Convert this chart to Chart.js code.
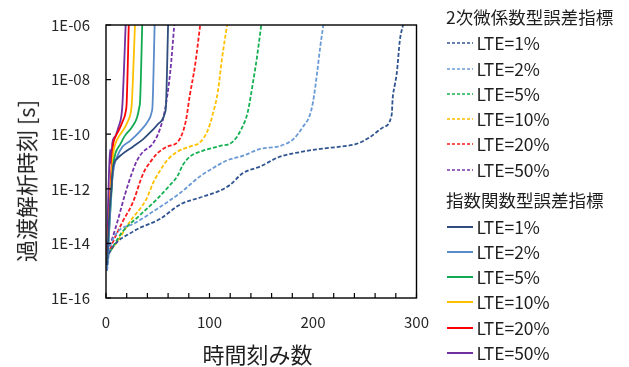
<!DOCTYPE html>
<html>
<head>
<meta charset="utf-8">
<script src="https://cdn.jsdelivr.net/npm/chart.js@4.4.1/dist/chart.umd.min.js"></script>
<style>
  html, body { margin: 0; padding: 0; background: #fff; }
  #wrap { position: relative; width: 629px; height: 367px; overflow: hidden; }
  #chart { position: absolute; left: 0; top: 0; }
  .txt { position: absolute; white-space: nowrap; font-family: "Noto Sans CJK JP", "Noto Sans", sans-serif; color: #1e1e1e; }
  .lg { font-size: 17.5px; line-height: 22px; height: 22px; }
  .lg svg { position: absolute; left: 0; top: 0; }
  .lg span { position: absolute; left: 30.5px; top: 0; }
  .axt { font-size: 22px; line-height: 26px; }
</style>
</head>
<body>
<div id="wrap">
  <canvas id="chart" width="629" height="367"></canvas>
  <div id="overlay"></div>
</div>
<script>
// Transient-analysis time reached vs. number of time steps, per error tolerance.
const groupTitles = ['2次微係数型誤差指標', '指数関数型誤差指標'];
const lteLabels = ['LTE=1%', 'LTE=2%', 'LTE=5%', 'LTE=10%', 'LTE=20%', 'LTE=50%'];
const derivColors = ['#2F5490', '#6A9AD6', '#14B052', '#FFC000', '#FF1A1A', '#7535AA'];
const expoColors  = ['#2E4C7C', '#5A8BCB', '#12AA50', '#FFC000', '#FF0000', '#7030A0'];
const xTitle = '時間刻み数';
const yTitle = '過渡解析時刻 [s]';

// axis ticks
const xTickMarks = [0, 20, 40, 60, 80, 100, 120, 140, 160, 180, 200, 220, 240, 260, 280, 300];
const yTickValues = [1e-16, 1e-14, 1e-12, 1e-10, 1e-8, 1e-6];
const yTickLabels = ['1E-16', '1E-14', '1E-12', '1E-10', '1E-08', '1E-06'];

// second-derivative error index (dashed)
const deriv1Steps = [1, 4, 26, 52, 72, 91, 110, 120, 132, 149, 168, 190, 207, 226, 242, 255, 268, 276, 277, 279, 281, 284, 287];
const deriv1Time  = [2.5e-15, 5.1e-15, 2.7e-14, 7.8e-14, 2.7e-13, 4.8e-13, 8.5e-13, 1.4e-12, 3.7e-12, 6.6e-12, 1.5e-11, 2.3e-11, 2.9e-11, 3.5e-11, 4.4e-11, 7.8e-11, 1.8e-10, 5.1e-10, 2.1e-9, 6.2e-9, 1.8e-8, 2.9e-7, 1e-6];
const deriv2Steps = [1, 4, 26, 49, 72, 91, 100, 117, 132, 149, 168, 181, 190, 197, 200, 204, 207, 210];
const deriv2Time  = [1.0e-15, 7.9e-15, 5.1e-14, 1.8e-13, 7.2e-13, 2.9e-12, 4.8e-12, 1.1e-11, 1.6e-11, 2.9e-11, 3.7e-11, 6.6e-11, 1.8e-10, 5.1e-10, 1.5e-9, 1.8e-8, 1.6e-7, 1e-6];
const deriv5Steps = [1, 7, 16, 33, 49, 62, 69, 74, 81, 94, 110, 122, 131, 137, 142, 146, 150];
const deriv5Time  = [3.2e-15, 7.9e-15, 2.7e-14, 1.1e-13, 4.1e-13, 1.4e-12, 2.9e-12, 7.2e-12, 1.5e-11, 2.5e-11, 3.7e-11, 5.1e-11, 1.6e-10, 6.6e-10, 7.8e-9, 7.2e-8, 1e-6];
const deriv10Steps = [1, 9, 23, 39, 46, 52, 59, 69, 81, 91, 98, 103, 108, 112, 117];
const deriv10Time  = [4.0e-15, 9.1e-15, 6.2e-14, 4.2e-13, 1.8e-12, 4.5e-12, 1.1e-11, 2.3e-11, 3.5e-11, 5.1e-11, 1.3e-10, 5.1e-10, 3.5e-9, 5.6e-8, 1e-6];
const deriv20Steps = [1, 4, 7, 16, 26, 36, 44, 49, 59, 70, 77, 81, 86, 91];
const deriv20Time  = [4.0e-15, 6.3e-15, 1.2e-14, 6.2e-14, 3.2e-13, 3.7e-12, 1.1e-11, 1.9e-11, 3.5e-11, 5.6e-11, 2.9e-10, 2.7e-9, 3.2e-8, 1e-6];
const deriv50Steps = [1, 6, 11, 18, 25, 30, 36, 45, 52, 57, 62, 66];
const deriv50Time  = [5.0e-15, 1.5e-14, 6.2e-14, 5.6e-13, 3.7e-12, 1.1e-11, 2.3e-11, 4.4e-11, 1.5e-10, 7.9e-10, 1.8e-8, 1e-6];

// exponential-function error index (solid)
const expo1Steps = [1, 2, 4, 5, 6, 7, 11, 16, 26, 36, 44, 50, 57, 58, 60];
const expo1Time  = [1.6e-15, 1.3e-14, 3.2e-13, 7.2e-13, 2.9e-12, 6.6e-12, 1.3e-11, 1.9e-11, 3.5e-11, 6.6e-11, 1.3e-10, 2.3e-10, 6.2e-10, 1.2e-9, 1e-6];
const expo2Steps = [1, 2, 4, 5, 6, 8, 11, 16, 23, 33, 41, 44, 45, 47];
const expo2Time  = [1.0e-15, 5.0e-15, 1.4e-13, 7.2e-13, 2.1e-12, 7.2e-12, 1.6e-11, 3.5e-11, 5.6e-11, 1.3e-10, 3.2e-10, 6.2e-10, 1.2e-9, 1e-6];
const expo5Steps = [1, 3, 5, 7, 9, 14, 18, 25, 30, 32, 33, 35];
const expo5Time  = [1.6e-15, 2.7e-14, 4.8e-13, 7.2e-12, 1.9e-11, 4.4e-11, 8.5e-11, 1.8e-10, 4.1e-10, 9.1e-10, 1.8e-9, 1e-6];
const expo10Steps = [1, 3, 5, 7, 9, 12, 16, 21, 24, 25, 28];
const expo10Time  = [2.5e-15, 6.3e-14, 1.6e-12, 1.9e-11, 4.4e-11, 7.8e-11, 1.3e-10, 2.9e-10, 6.6e-10, 1.5e-9, 1e-6];
const expo20Steps = [1, 3, 5, 6, 7, 9, 12, 16, 19, 20, 22];
const expo20Time  = [3.5e-15, 1.0e-13, 3.7e-12, 1.6e-11, 4.4e-11, 7.8e-11, 1.3e-10, 2.9e-10, 6.6e-10, 1.5e-9, 1e-6];
const expo50Steps = [1, 2, 3, 4, 5, 6, 9, 12, 15, 16, 19];
const expo50Time  = [5.0e-15, 3.2e-13, 5.0e-12, 2.8e-11, 8.0e-12, 4.4e-11, 8.5e-11, 1.8e-10, 5.1e-10, 1.5e-9, 1e-6];

const derivSeries = [
  [deriv1Steps, deriv1Time], [deriv2Steps, deriv2Time], [deriv5Steps, deriv5Time],
  [deriv10Steps, deriv10Time], [deriv20Steps, deriv20Time], [deriv50Steps, deriv50Time]
];
const expoSeries = [
  [expo1Steps, expo1Time], [expo2Steps, expo2Time], [expo5Steps, expo5Time],
  [expo10Steps, expo10Time], [expo20Steps, expo20Time], [expo50Steps, expo50Time]
];

const FONT = '"Noto Sans CJK JP", "Noto Sans", sans-serif';
const DASH = [4, 2];

function toPoints(steps, times) {
  return steps.map((s, i) => ({ x: s, y: times[i] }));
}

const datasets = [];
expoSeries.forEach(([s, t], i) => datasets.push({
  label: groupTitles[1] + ' ' + lteLabels[i],
  data: toPoints(s, t),
  borderColor: expoColors[i],
  borderWidth: 1.8,
  pointRadius: 0,
  cubicInterpolationMode: 'monotone',
  fill: false
}));
derivSeries.forEach(([s, t], i) => datasets.push({
  label: groupTitles[0] + ' ' + lteLabels[i],
  data: toPoints(s, t),
  borderColor: derivColors[i],
  borderDash: DASH,
  borderWidth: 1.8,
  pointRadius: 0,
  cubicInterpolationMode: 'monotone',
  fill: false
}));

// plot frame with inward tick marks
const framePlugin = {
  id: 'frame',
  afterDatasetsDraw(chart) {
    const { ctx, chartArea: a, scales: { x, y } } = chart;
    ctx.save();
    ctx.strokeStyle = '#000';
    ctx.lineWidth = 1.4;
    ctx.strokeRect(a.left, a.top, a.right - a.left, a.bottom - a.top);
    ctx.lineWidth = 1.2;
    ctx.beginPath();
    xTickMarks.forEach(v => {
      const px = x.getPixelForValue(v);
      ctx.moveTo(px, a.bottom);
      ctx.lineTo(px, a.bottom - 5);
    });
    yTickValues.forEach(v => {
      const py = y.getPixelForValue(v);
      ctx.moveTo(a.left, py);
      ctx.lineTo(a.left + 5, py);
    });
    ctx.stroke();
    ctx.restore();
  }
};

Chart.defaults.font.family = FONT;
Chart.defaults.color = '#262626';

new Chart(document.getElementById('chart'), {
  type: 'line',
  data: { datasets },
  options: {
    responsive: false,
    animation: false,
    devicePixelRatio: 1,
    layout: { padding: { left: 0, top: 18, right: 212.5, bottom: 0 } },
    plugins: { legend: { display: false }, tooltip: { enabled: false } },
    scales: {
      x: {
        type: 'linear',
        min: 0, max: 300,
        grid: { display: false, drawTicks: false },
        border: { display: false },
        ticks: { stepSize: 100, padding: 15, font: { size: 15 }, color: '#262626' },
        afterFit(s) { s.height = 69; }
      },
      y: {
        type: 'logarithmic',
        min: 1e-16, max: 1e-6,
        grid: { display: false, drawTicks: false },
        border: { display: false },
        ticks: {
          padding: 16,
          font: { size: 15 },
          color: '#262626',
          callback: (v, i) => yTickLabels[i]
        },
        afterBuildTicks(s) { s.ticks = yTickValues.map(v => ({ value: v })); },
        afterFit(s) { s.width = 106; }
      }
    }
  },
  plugins: [framePlugin]
});

// axis titles and the grouped legend
const overlay = document.getElementById('overlay');
function addText(html, cls, style) {
  const d = document.createElement('div');
  d.className = 'txt ' + cls;
  d.innerHTML = html;
  Object.assign(d.style, style);
  overlay.appendChild(d);
  return d;
}
const xt = addText(xTitle, 'axt', { left: '0px', top: '0px' });
xt.style.left = (257.6 - xt.offsetWidth / 2) + 'px';
xt.style.top = (353 - 13) + 'px';
const yt = addText(yTitle, 'axt', { left: '0px', top: '0px' });
yt.style.left = (25 - yt.offsetWidth / 2) + 'px';
yt.style.top = (180.5 - 13) + 'px';
yt.style.transform = 'rotate(-90deg)';

const groupColors = [derivColors, expoColors];
const groupTops = [16.7, 200];
groupTitles.forEach((title, g) => {
  addText(title, 'lg', { left: '446px', top: (groupTops[g] - 11) + 'px' });
  lteLabels.forEach((lab, i) => {
    const cy = groupTops[g] + 26.5 + i * 25.3;
    const dash = g === 0 ? ' stroke-dasharray="3 2"' : '';
    const sw = g === 0 ? 1.5 : 2;
    const svg = '<svg width="28" height="22"><line x1="1" y1="11" x2="27" y2="11" stroke="' +
      groupColors[g][i] + '" stroke-width="' + sw + '"' + dash + '/></svg>';
    addText(svg + '<span>' + lab + '</span>', 'lg', { left: '446px', top: (cy - 11) + 'px', width: '120px' });
  });
});
</script>
</body>
</html>
